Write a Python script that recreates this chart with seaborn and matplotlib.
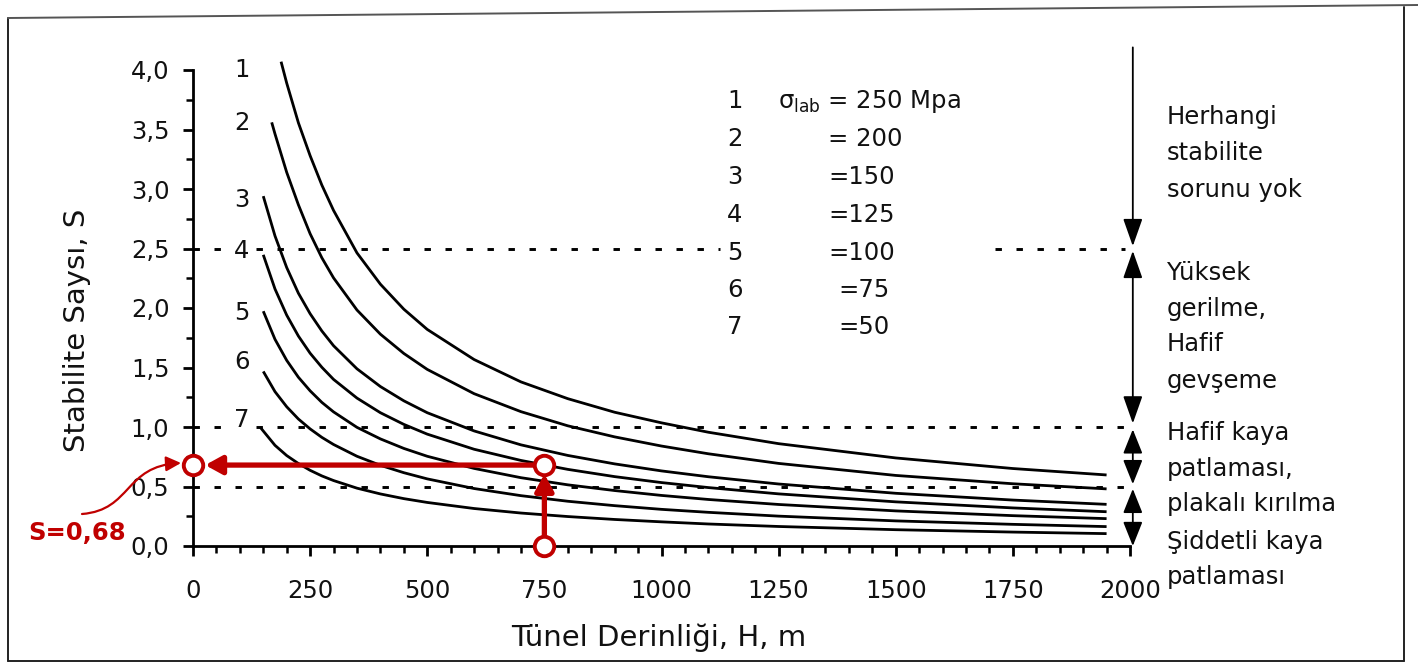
import matplotlib
matplotlib.use("Agg")
import matplotlib.pyplot as plt
import numpy as np
import pandas as pd
import seaborn as sns
from matplotlib.ticker import MultipleLocator, FuncFormatter
from matplotlib.path import Path
from matplotlib.patches import FancyArrowPatch
from matplotlib.lines import Line2D

# ---------------- data ----------------
curve_ids = ["1", "2", "3", "4", "5", "6", "7"]
sigma_lab = [250, 200, 150, 125, 100, 75, 50]

h1 = [188, 200, 225, 250, 275, 300, 350, 400, 450, 500, 600, 700, 800, 900, 1000, 1100, 1250, 1500, 1750, 1950]
s1 = [4.07, 3.89, 3.556, 3.28, 3.033, 2.82, 2.463, 2.20, 1.99, 1.82, 1.567, 1.379, 1.238, 1.124, 1.035, 0.956, 0.86, 0.74, 0.651, 0.597]
h2 = [168, 175, 200, 225, 250, 275, 300, 350, 400, 450, 500, 600, 700, 800, 900, 1000, 1100, 1250, 1500, 1750, 1950]
s2 = [3.56, 3.463, 3.14, 2.867, 2.624, 2.422, 2.253, 1.983, 1.78, 1.618, 1.484, 1.28, 1.129, 1.01, 0.917, 0.84, 0.775, 0.694, 0.593, 0.523, 0.48]
h3 = [150, 175, 200, 225, 250, 275, 300, 350, 400, 450, 500, 600, 700, 800, 900, 1000, 1100, 1250, 1500, 1750, 1950]
s3 = [2.94, 2.606, 2.34, 2.124, 1.952, 1.807, 1.683, 1.489, 1.34, 1.22, 1.12, 0.967, 0.85, 0.761, 0.69, 0.631, 0.582, 0.521, 0.443, 0.386, 0.35]
h4 = [150, 175, 200, 225, 250, 275, 300, 350, 400, 450, 500, 600, 700, 800, 900, 1000, 1100, 1250, 1500, 1750, 1950]
s4 = [2.447, 2.16, 1.94, 1.764, 1.62, 1.502, 1.40, 1.243, 1.12, 1.022, 0.94, 0.813, 0.719, 0.644, 0.583, 0.533, 0.491, 0.438, 0.371, 0.32, 0.288]
h5 = [150, 175, 200, 225, 250, 275, 300, 350, 400, 450, 500, 600, 700, 800, 900, 1000, 1100, 1250, 1500, 1750, 1950]
s5 = [1.973, 1.737, 1.56, 1.418, 1.304, 1.207, 1.127, 0.997, 0.90, 0.82, 0.754, 0.652, 0.574, 0.514, 0.466, 0.425, 0.391, 0.349, 0.295, 0.255, 0.23]
h6 = [150, 175, 200, 225, 250, 275, 300, 350, 400, 450, 500, 600, 700, 800, 900, 1000, 1100, 1250, 1500, 1750, 1950]
s6 = [1.467, 1.297, 1.17, 1.067, 0.984, 0.913, 0.853, 0.754, 0.678, 0.616, 0.564, 0.483, 0.423, 0.376, 0.339, 0.308, 0.283, 0.251, 0.211, 0.182, 0.163]
h7 = [143, 175, 200, 225, 250, 275, 300, 350, 400, 450, 500, 600, 700, 800, 900, 1000, 1100, 1250, 1500, 1750, 1950]
s7 = [1.0, 0.846, 0.76, 0.693, 0.636, 0.589, 0.55, 0.486, 0.4375, 0.398, 0.366, 0.315, 0.277, 0.2475, 0.223, 0.203, 0.185, 0.164, 0.137, 0.117, 0.104]

x_ticks = [0, 250, 500, 750, 1000, 1250, 1500, 1750, 2000]
y_ticks = [0.0, 0.5, 1.0, 1.5, 2.0, 2.5, 3.0, 3.5, 4.0]
limit_lines = [2.5, 1.0, 0.5]

legend_nums = ["1", "2", "3", "4", "5", "6", "7"]
legend_vals = ["σ$_{\\mathrm{lab}}$ = 250 Mpa", "= 200", "=150", "=125", "=100", "=75", "=50"]

zone_lines = ["Herhangi", "stabilite", "sorunu yok",
              "Yüksek", "gerilme,", "Hafif", "gevşeme",
              "Hafif kaya", "patlaması,", "plakalı kırılma",
              "Şiddetli kaya", "patlaması"]

example_h = 750
example_s = 0.68
example_text = "S=0,68"

# ---------------- style ----------------
sns.set_theme(style="white")
plt.rcParams["font.family"] = ["DejaVu Sans"]
plt.rcParams["mathtext.fontset"] = "dejavusans"

W, HH = 1418, 669
def fx(px):
    return px / W
def fy(py):
    return 1 - py / HH

RED = "#C00000"
BLACK = "black"
TXT = "#111111"

fig = plt.figure(figsize=(W / 100, HH / 100), dpi=100, facecolor="white")
ax = fig.add_axes([fx(193), fy(546), 937 / W, 476 / HH])
ax.set_facecolor("none")

# ---------------- curves ----------------
hs = [h1, h2, h3, h4, h5, h6, h7]
ss = [s1, s2, s3, s4, s5, s6, s7]
frames = []
for cid, h, s in zip(curve_ids, hs, ss):
    frames.append(pd.DataFrame({"H": h, "S": s, "curve": cid}))
df = pd.concat(frames, ignore_index=True)

sns.lineplot(data=df, x="H", y="S", hue="curve", palette=[BLACK] * 7,
             estimator=None, sort=False, legend=False, linewidth=2.0, ax=ax)
for ln in ax.lines:
    ln.set_clip_on(False)
    ln.set_solid_capstyle("butt")
    ln.set_solid_joinstyle("round")

# ---------------- limit (dashed) lines ----------------
dash = (0, (2.2, 5.0))
ax.plot([0, 1125], [2.5, 2.5], color=BLACK, lw=2.1, ls=dash, clip_on=False)
ax.plot([1712, 1989], [2.5, 2.5], color=BLACK, lw=2.1, ls=dash, clip_on=False)
ax.plot([0, 1989], [1.0, 1.0], color=BLACK, lw=2.1, ls=dash, clip_on=False)
ax.plot([0, 1989], [0.5, 0.5], color=BLACK, lw=2.1, ls=dash, clip_on=False)

# ---------------- axes ----------------
ax.set_xlim(0, 2000)
ax.set_ylim(0, 4.0)
ax.set_xticks(x_ticks)
ax.set_yticks(y_ticks)
ax.xaxis.set_minor_locator(MultipleLocator(50))
ax.yaxis.set_minor_locator(MultipleLocator(0.25))
ax.yaxis.set_major_formatter(FuncFormatter(lambda v, p: f"{v:.1f}".replace(".", ",")))
ax.xaxis.set_major_formatter(FuncFormatter(lambda v, p: f"{int(v)}"))
for side in ["top", "right"]:
    ax.spines[side].set_visible(False)
for side in ["left", "bottom"]:
    ax.spines[side].set_color(BLACK)
    ax.spines[side].set_linewidth(2.0)
ax.tick_params(axis="x", which="major", direction="out", length=7, width=2.0,
               color=BLACK, labelsize=17.5, labelcolor=TXT, pad=17, bottom=True)
ax.tick_params(axis="x", which="minor", direction="out", length=5, width=1.8,
               color=BLACK, bottom=True)
ax.tick_params(axis="y", which="major", direction="out", length=7, width=2.0,
               color=BLACK, labelsize=17.5, labelcolor=TXT, pad=10, left=True)
ax.tick_params(axis="y", which="minor", direction="out", length=5, width=1.8,
               color=BLACK, left=True)

ax.set_xlabel("Tünel Derinliği, H, m", fontsize=21, color=TXT)
ax.xaxis.label.set_verticalalignment("baseline")
ax.xaxis.set_label_coords((659 - 193) / 937, (546 - 646) / 476)
ax.set_ylabel("Stabilite Saysı, S", fontsize=21, color=TXT)
ax.yaxis.label.set_verticalalignment("center")
ax.yaxis.set_label_coords((77 - 193) / 937, (546 - 330) / 476)

# ---------------- curve numbers ----------------
num_baselines = [77, 130, 207, 258, 320, 369, 427]
for cid, by in zip(curve_ids, num_baselines):
    fig.text(fx(242), fy(by), cid, fontsize=17.5, ha="center", va="baseline", color=TXT,
             bbox=dict(boxstyle="square,pad=0.1", fc="white", ec="none"), zorder=5)

# ---------------- legend block ----------------
leg_baselines = [108, 146, 184, 222, 260, 297, 334]
leg_x = [778, 828, 828, 828, 828, 838, 838]
for num, val, by, lx in zip(legend_nums, legend_vals, leg_baselines, leg_x):
    fig.text(fx(735), fy(by), num, fontsize=17.5, ha="center", va="baseline", color=TXT)
    fig.text(fx(lx), fy(by), val, fontsize=17.5, ha="left", va="baseline", color=TXT)

# ---------------- right-hand zone arrows ----------------
ax_x = 2006
def zone_arrow(y0, y1, style):
    ax.annotate("", xy=(ax_x, y1), xytext=(ax_x, y0), annotation_clip=False,
                arrowprops=dict(arrowstyle=style, color=BLACK, lw=1.3,
                                shrinkA=0, shrinkB=0, mutation_scale=1))

hs_ = "head_length=17,head_width=6"
zone_arrow(4.19, 2.52, "-|>," + hs_)
zone_arrow(2.48, 1.03, "<|-|>," + hs_)
zone_arrow(0.98, 0.52, "<|-|>,head_length=15,head_width=6")
zone_arrow(0.48, 0.0, "<|-|>,head_length=15,head_width=6")

zone_baselines = [124, 160, 197, 280, 316, 351, 388, 440, 476, 511, 549, 584]
for txt, by in zip(zone_lines, zone_baselines):
    fig.text(fx(1167), fy(by), txt, fontsize=17.5, ha="left", va="baseline", color=TXT)

# ---------------- red worked example ----------------
ax.annotate("", xy=(example_h, 0.605), xytext=(example_h, 0.0), annotation_clip=False,
            arrowprops=dict(arrowstyle="-|>,head_length=10,head_width=5.5", color=RED,
                            lw=3.8, shrinkA=0, shrinkB=0, mutation_scale=1))
ax.annotate("", xy=(26, example_s), xytext=(example_h, example_s), annotation_clip=False,
            arrowprops=dict(arrowstyle="-|>,head_length=10,head_width=5.5", color=RED,
                            lw=3.8, shrinkA=0, shrinkB=0, mutation_scale=1))
ax.plot([0, example_h, example_h], [example_s, example_s, 0.0], linestyle="none",
        marker="o", ms=14, mfc="white", mec=RED, mew=2.8, clip_on=False, zorder=6)

fig.text(fx(28), fy(540), example_text, fontsize=17.5, fontweight="bold",
         color=RED, ha="left", va="baseline")

verts = [(fx(82), fy(514)), (fx(132), fy(510)), (fx(124), fy(466)), (fx(181), fy(463))]
codes = [Path.MOVETO, Path.CURVE4, Path.CURVE4, Path.CURVE4]
curved = FancyArrowPatch(path=Path(verts, codes),
                         arrowstyle="-|>,head_length=9,head_width=4.5",
                         mutation_scale=1, color=RED, lw=1.6,
                         transform=fig.transFigure)
fig.add_artist(curved)

# ---------------- scan frame ----------------
frame_kw = dict(color="#222222", lw=1.4, transform=fig.transFigure)
fig.add_artist(Line2D([fx(8), fx(8)], [fy(18), fy(661)], **frame_kw))
fig.add_artist(Line2D([fx(8), fx(1404)], [fy(661), fy(661)], **frame_kw))
fig.add_artist(Line2D([fx(8), fx(1418)], [fy(18), fy(5)], color="#555555", lw=1.4,
                      transform=fig.transFigure))
fig.add_artist(Line2D([fx(1404), fx(1404)], [fy(7), fy(661)], **frame_kw))

fig.savefig("out.png", dpi=100, facecolor="white")
